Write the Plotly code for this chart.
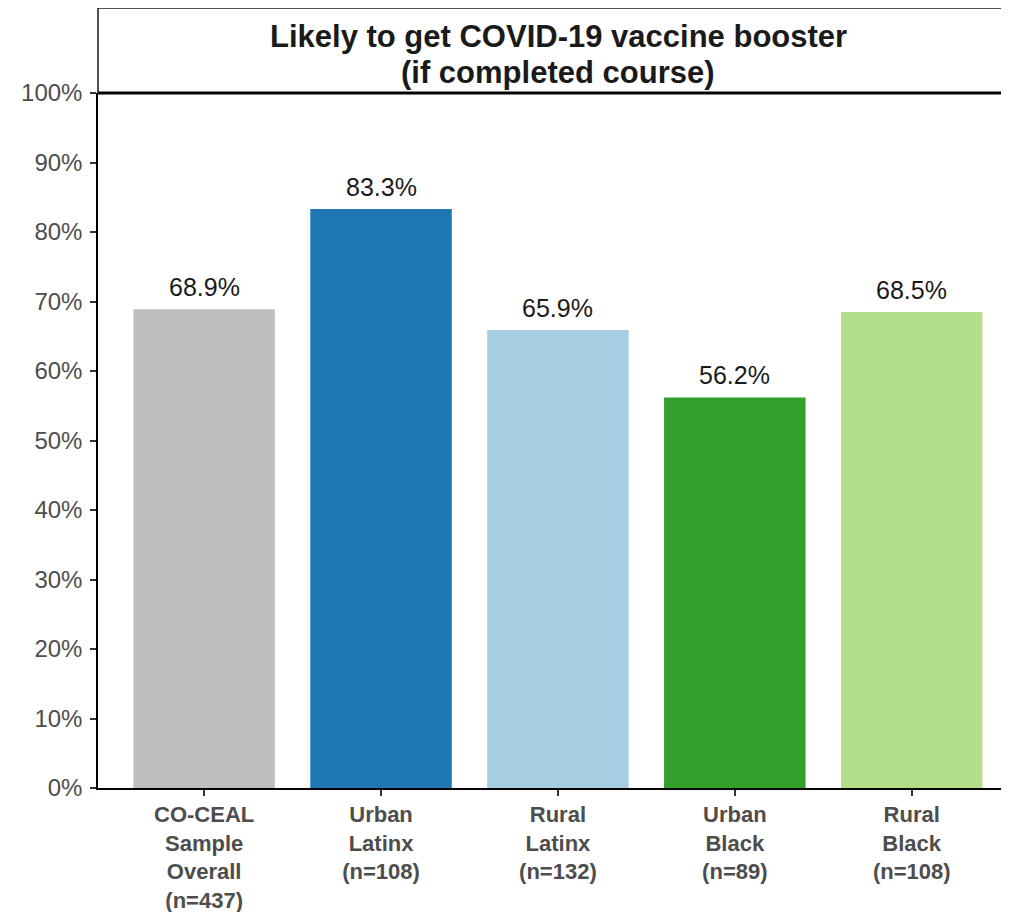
import plotly.graph_objects as go

categories = ["CO-CEAL<br>Sample<br>Overall<br>(n=437)", "Urban<br>Latinx<br>(n=108)",
              "Rural<br>Latinx<br>(n=132)", "Urban<br>Black<br>(n=89)", "Rural<br>Black<br>(n=108)"]
values = [68.9, 83.3, 65.9, 56.2, 68.5]
colors = ["#BEBEBE", "#1F78B4", "#A6CEE3", "#33A02C", "#B2DF8A"]
title_lines = ["Likely to get COVID-19 vaccine booster", "(if completed course)"]
y_ticks = list(range(0, 101, 10))

# page has an 8px body margin
W, H = 1001, 904
L, T, B = 90, 85, 124
ph = H - T - B

fig = go.Figure()
fig.add_trace(go.Bar(
    x=list(range(len(categories))), y=values, marker_color=colors, marker_line_width=0,
    width=0.8, cliponaxis=False,
))
for i, v in enumerate(values):
    fig.add_annotation(x=i, y=v, text=f"{v:.1f}%", showarrow=False, yanchor="bottom",
                       yshift=6, font=dict(size=25, color="#1a1a1a"))

fig.update_layout(
    width=W, height=H,
    margin=dict(l=L, r=0, t=T, b=B, autoexpand=False),
    paper_bgcolor="white", plot_bgcolor="white",
    showlegend=False,
    font=dict(family="Liberation Sans, Arial"),
    xaxis=dict(
        range=[-0.6, 4.55], tickmode="array", tickvals=list(range(len(categories))),
        ticktext=[f"<b>{c}</b>" for c in categories], automargin=False,
        showline=True, linecolor="black", linewidth=1.5,
        ticks="outside", ticklen=6, tickcolor="#333333", tickwidth=1.5,
        tickfont=dict(size=22, color="#4D4D4D"), showgrid=False, zeroline=False,
    ),
    yaxis=dict(
        range=[0, 100], tickmode="array", tickvals=y_ticks,
        ticktext=[f"{t}%" for t in y_ticks], automargin=False,
        showline=True, linecolor="black", linewidth=1.5,
        ticks="outside", ticklen=6, tickcolor="#333333", tickwidth=1.5,
        ticklabelstandoff=3,
        tickfont=dict(size=24, color="#4D4D4D"), showgrid=False, zeroline=False,
    ),
)

top = (ph + T) / ph
fig.add_shape(type="rect", xref="paper", yref="paper", x0=0, x1=1.03, y0=1, y1=top,
              line=dict(color="#1a1a1a", width=1.5), fillcolor="white", layer="below")
fig.add_shape(type="line", xref="paper", yref="paper", x0=0, x1=1.03, y0=1, y1=1,
              line=dict(color="black", width=3))
cx = (558 - 98) / 911
for line, py in zip(title_lines, [36, 72]):
    fig.add_annotation(text=f"<b>{line}</b>", xref="paper", yref="paper",
                       x=cx, y=(ph + T - (py - 8)) / ph, xanchor="center", yanchor="middle",
                       showarrow=False, font=dict(size=31, color="#1a1a1a"))

fig.write_html("out.html")
